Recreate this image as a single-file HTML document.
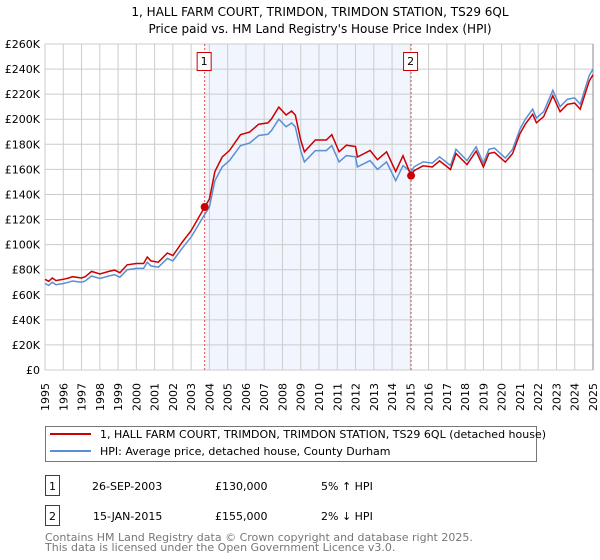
<!DOCTYPE html>
<html><head><meta charset="utf-8"><style>
body{margin:0;background:#fff;}
svg{display:block;font-family:"DejaVu Sans","Liberation Sans",sans-serif;}
</style></head><body>
<svg id="c" width="600" height="560" viewBox="0 0 600 560">
<text x="320" y="16" font-size="12" text-anchor="middle">1, HALL FARM COURT, TRIMDON, TRIMDON STATION, TS29 6QL</text>
<text x="320" y="33" font-size="12" text-anchor="middle">Price paid vs. HM Land Registry's House Price Index (HPI)</text>
<g id="plot"></g>
<rect x="45.5" y="426.5" width="491" height="35" fill="#fff" stroke="#777"/>
<line x1="50" y1="434" x2="91" y2="434" stroke="#cc0000" stroke-width="2"/>
<text x="100" y="438" font-size="11">1, HALL FARM COURT, TRIMDON, TRIMDON STATION, TS29 6QL (detached house)</text>
<line x1="50" y1="451" x2="91" y2="451" stroke="#5b8fd4" stroke-width="2"/>
<text x="100" y="455" font-size="11">HPI: Average price, detached house, County Durham</text>
<g font-size="11">
<rect x="45.5" y="475.5" width="14" height="20" fill="none" stroke="#cc0000"/>
<text x="52.5" y="490" text-anchor="middle">1</text>
<text x="92" y="490">26-SEP-2003</text>
<text x="215" y="490">£130,000</text>
<text x="321" y="490">5% ↑ HPI</text>
<rect x="45.5" y="505.5" width="14" height="20" fill="none" stroke="#cc0000"/>
<text x="52.5" y="520" text-anchor="middle">2</text>
<text x="93" y="520">15-JAN-2015</text>
<text x="215" y="520">£155,000</text>
<text x="321" y="520">2% ↓ HPI</text>
</g>
<text x="45" y="541" font-size="11" fill="#777">Contains HM Land Registry data © Crown copyright and database right 2025.</text>
<text x="45" y="551" font-size="11" fill="#777">This data is licensed under the Open Government Licence v3.0.</text>
</svg>
<script>
const hpiYears=[1995.0,1995.2,1995.4,1995.6,1996.0,1996.3,1996.5,1997.0,1997.2,1997.55,1998.0,1998.5,1998.8,1999.1,1999.5,2000.0,2000.4,2000.6,2000.8,2001.2,2001.7,2002.0,2002.5,2003.0,2003.74,2004.0,2004.3,2004.7,2005.1,2005.7,2006.2,2006.7,2007.2,2007.4,2007.8,2008.2,2008.5,2008.7,2009.0,2009.2,2009.8,2010.4,2010.7,2011.1,2011.5,2012.0,2012.1,2012.8,2013.2,2013.7,2014.2,2014.6,2015.04,2015.2,2015.7,2016.2,2016.6,2017.2,2017.5,2018.1,2018.6,2019.0,2019.3,2019.6,2020.2,2020.6,2021.0,2021.3,2021.7,2021.9,2022.3,2022.8,2023.2,2023.6,2024.0,2024.3,2024.8,2025.0];
const hpiValues=[69,67.5,70,68,69,70,71,70,71,75,73,75,76,74,80,81,81,86,83,82,89,87,97,106,124,130,151,162,167,179,181,187,188,191,200,194,197,194,175,166,175,175,179,166,171,170,162,167,160,166,151,163,158,162,166,165,170,163,176,167,178,165,176,177,169,176,192,200,208,201,206,223,210,216,217,212,235,240];
const saleYears=[2003.74,2015.04];
const salePrices=[130,155];
const saleLabels=["1","2"];
const yTicks=[0,20,40,60,80,100,120,140,160,180,200,220,240,260];
const xTicks=[1995,1996,1997,1998,1999,2000,2001,2002,2003,2004,2005,2006,2007,2008,2009,2010,2011,2012,2013,2014,2015,2016,2017,2018,2019,2020,2021,2022,2023,2024,2025];

const L=45,R=593,T=44,B=370;
const X=y=>L+(y-1995)/30*(R-L);
const Y=v=>B-v/260*(B-T);
const NS="http://www.w3.org/2000/svg";
const g=document.getElementById('plot');
function mk(t,a){const e=document.createElementNS(NS,t);for(const k in a)e.setAttribute(k,a[k]);g.appendChild(e);return e;}
function hpiAt(y){for(let i=0;i<hpiYears.length-1;i++){if(y<=hpiYears[i+1]){const f=(y-hpiYears[i])/(hpiYears[i+1]-hpiYears[i]);return hpiValues[i]+f*(hpiValues[i+1]-hpiValues[i]);}}return hpiValues[hpiValues.length-1];}

const sh=mk('rect',{x:X(saleYears[0]),y:T,width:X(saleYears[1])-X(saleYears[0]),height:B-T,fill:'#f1f5fd'});


yTicks.forEach(v=>{
  const l=mk('line',{x1:L,x2:R,y1:Y(v),y2:Y(v),stroke:'#cccccc'});
  
  
  const t=mk('text',{x:L-5,y:Y(v)+4,'font-size':11,'text-anchor':'end'});
  t.textContent=v===0?'£0':'£'+v+'K';
  
  
});
xTicks.forEach(yr=>{
  const l=mk('line',{x1:X(yr),x2:X(yr),y1:T,y2:B,stroke:'#cccccc'});
  
  
  const cx=X(yr)+4, cy=383;
  const t=mk('text',{x:cx,y:cy,'font-size':11,'text-anchor':'end',transform:'rotate(-90 '+cx+' '+cy+')'});
  t.textContent=yr;
  
  
});
const ax=mk('line',{x1:R,x2:R,y1:T,y2:B,stroke:'#888'});


saleYears.forEach((sy,i)=>{
  const l=mk('line',{x1:X(sy),x2:X(sy),y1:T,y2:B,stroke:'#e05050','stroke-dasharray':'2,2'});
  
  
});
const hp=hpiYears.map((y,i)=>X(y).toFixed(1)+','+Y(hpiValues[i]).toFixed(1)).join(' ');
const blue=mk('polyline',{points:hp,fill:'none',stroke:'#5b8fd4','stroke-width':1.5});


const r1=salePrices[0]/hpiAt(saleYears[0]), r2=salePrices[1]/hpiAt(saleYears[1]);
const rp=hpiYears.map((y,i)=>X(y).toFixed(1)+','+Y(hpiValues[i]*(y<saleYears[1]?r1:r2)).toFixed(1)).join(' ');
const red=mk('polyline',{points:rp,fill:'none',stroke:'#cc0000','stroke-width':1.5});


saleYears.forEach((sy,i)=>{
  const c=mk('circle',{cx:X(sy),cy:Y(salePrices[i]),r:4,fill:'#cc0000'});
  
  
  const b=mk('rect',{x:X(sy)-7.5,y:52.5,width:14,height:18,fill:'#fff',stroke:'#cc0000'});
  
  
  const t=mk('text',{x:X(sy)-0.5,y:65,'font-size':11,'text-anchor':'middle'});
  t.textContent=saleLabels[i];
  
  
});
</script>
</body></html>
